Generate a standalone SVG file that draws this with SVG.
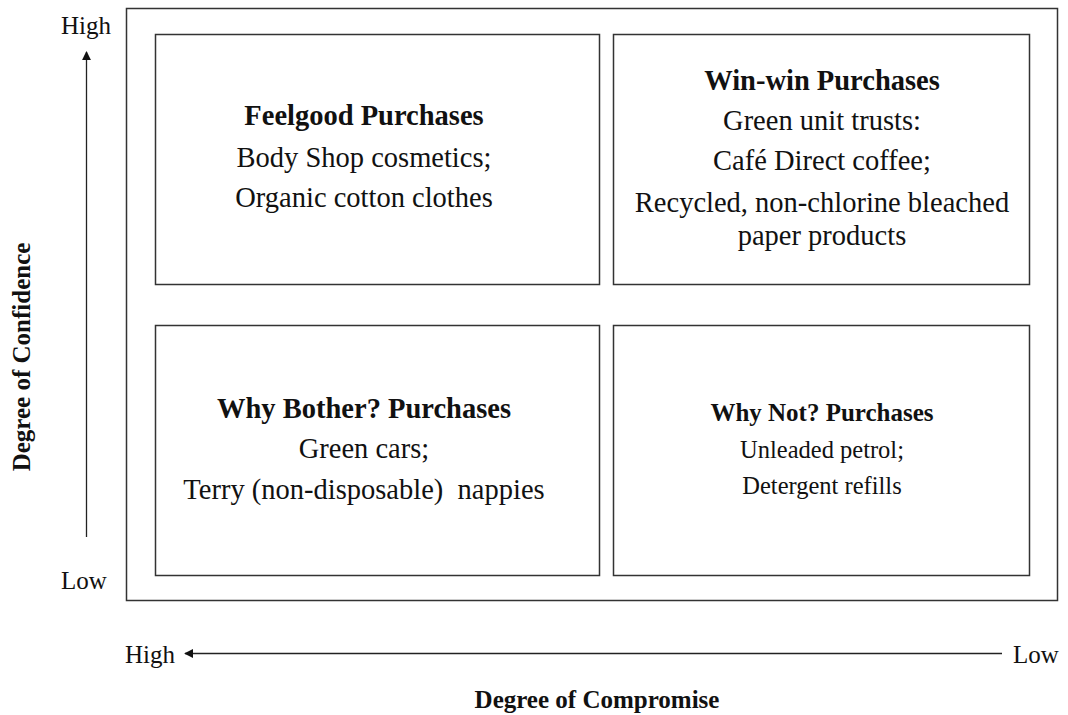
<svg xmlns="http://www.w3.org/2000/svg" width="1068" height="715" viewBox="0 0 1068 715">
  <style>
    .frame { fill: none; stroke: #333; stroke-width: 1.5; }
    .box { fill: #fff; stroke: #333; stroke-width: 1.5; }
    text { font-family: "Liberation Serif", "Times New Roman", serif; fill: #111; text-anchor: middle; }
    .title { font-weight: bold; font-size: 28.5px; }
    .body { font-size: 28.5px; }
    .title-s { font-weight: bold; font-size: 25px; }
    .body-s { font-size: 24.5px; }
    .axis { font-size: 25px; }
    .axis-title { font-weight: bold; font-size: 25px; }
    .conn { stroke: #222; stroke-width: 1.3; fill: none; }
  </style>
  <defs>
    <marker id="arrow" viewBox="0 0 10 10" refX="9" refY="5" markerWidth="9" markerHeight="9" markerUnits="userSpaceOnUse" orient="auto">
      <path d="M0,0 L10,5 L0,10 z" fill="#111"/>
    </marker>
  </defs>
  <rect width="1068" height="715" fill="#fff"/>

  <!-- outer frame of the matrix -->
  <rect class="frame" x="126.5" y="8.5" width="931" height="592"/>

  <g id="feelgood">
    <rect class="box" x="155.5" y="34.5" width="444" height="250"/>
    <text class="title" x="364" y="125">Feelgood Purchases</text>
    <text class="body" x="364" y="167">Body Shop cosmetics;</text>
    <text class="body" x="364" y="207">Organic cotton clothes</text>
  </g>

  <g id="winwin">
    <rect class="box" x="613.5" y="34.5" width="416" height="250"/>
    <text class="title" x="822" y="90">Win-win Purchases</text>
    <text class="body" x="822" y="130">Green unit trusts:</text>
    <text class="body" x="822" y="170">Café Direct coffee;</text>
    <text class="body" x="822" y="212">Recycled, non-chlorine bleached</text>
    <text class="body" x="822" y="245">paper products</text>
  </g>

  <g id="whybother">
    <rect class="box" x="155.5" y="325.5" width="444" height="250"/>
    <text class="title" x="364" y="418">Why Bother? Purchases</text>
    <text class="body" x="364" y="458">Green cars;</text>
    <text class="body" x="364" y="499" xml:space="preserve">Terry (non-disposable)  nappies</text>
  </g>

  <g id="whynot">
    <rect class="box" x="613.5" y="325.5" width="416" height="250"/>
    <text class="title-s" x="822" y="421">Why Not? Purchases</text>
    <text class="body-s" x="822" y="458">Unleaded petrol;</text>
    <text class="body-s" x="822" y="494">Detergent refills</text>
  </g>

  <!-- axes -->
  <g id="connectors">
    <line class="conn" x1="86.5" y1="537" x2="86.5" y2="52" marker-end="url(#arrow)"/>
    <line class="conn" x1="1002" y1="653.5" x2="185" y2="653.5" marker-end="url(#arrow)"/>
  </g>

  <g id="axis-labels">
    <text class="axis" x="86" y="34">High</text>
    <text class="axis" x="84" y="589">Low</text>
    <text class="axis" x="150" y="663">High</text>
    <text class="axis" x="1036" y="663">Low</text>
    <text class="axis-title" transform="translate(30,357) rotate(-90)">Degree of Confidence</text>
    <text class="axis-title" x="597" y="708">Degree of Compromise</text>
  </g>
</svg>
